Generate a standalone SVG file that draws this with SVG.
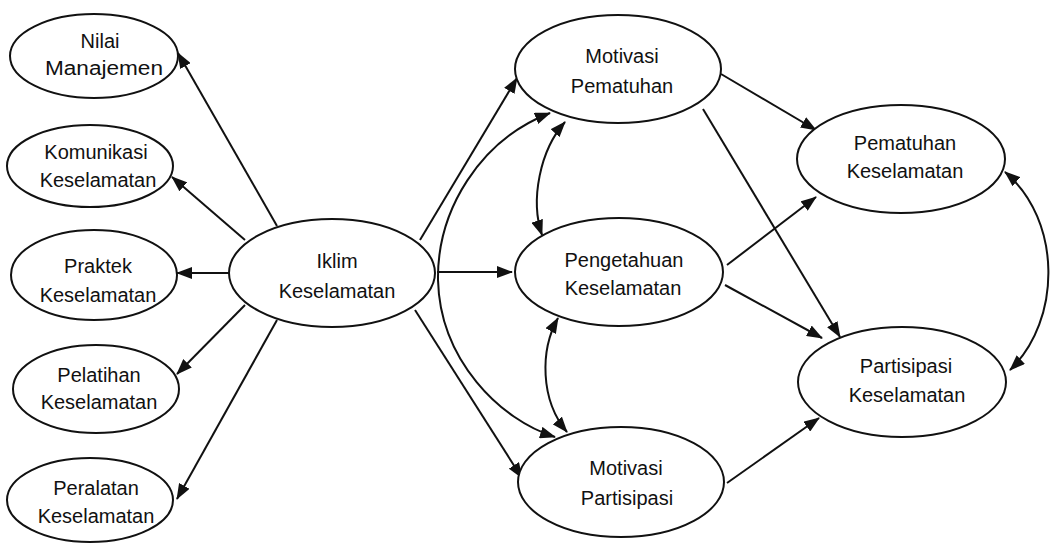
<svg xmlns="http://www.w3.org/2000/svg" width="1054" height="547" viewBox="0 0 1054 547">
<style>
.n{fill:#fff;stroke:#111;stroke-width:2}
.t{font-family:"Liberation Sans",Arial,sans-serif;font-size:20px;fill:#111;text-anchor:middle}
.c{fill:none;stroke:#111;stroke-width:2}
</style>
<defs>
<marker id="ah" markerUnits="userSpaceOnUse" markerWidth="16" markerHeight="12" viewBox="0 0 16 12" refX="15" refY="6" orient="auto-start-reverse">
<path d="M0,0 L16,6 L0,12 z" fill="#111"/>
</marker>
</defs>
<rect width="1054" height="547" fill="#fff"/>
<g id="connectors">
<line class="c" x1="277" y1="226" x2="178" y2="53" marker-end="url(#ah)"/>
<line class="c" x1="245" y1="240" x2="172" y2="177" marker-end="url(#ah)"/>
<line class="c" x1="230" y1="273" x2="177" y2="273" marker-end="url(#ah)"/>
<line class="c" x1="245" y1="305" x2="177" y2="374" marker-end="url(#ah)"/>
<line class="c" x1="277" y1="320" x2="177" y2="499" marker-end="url(#ah)"/>
<line class="c" x1="420" y1="240" x2="517" y2="78" marker-end="url(#ah)"/>
<line class="c" x1="437" y1="272" x2="512" y2="272" marker-end="url(#ah)"/>
<line class="c" x1="415" y1="310" x2="522" y2="478" marker-end="url(#ah)"/>
<line class="c" x1="721" y1="74" x2="816" y2="130" marker-end="url(#ah)"/>
<line class="c" x1="703" y1="109" x2="840" y2="337" marker-end="url(#ah)"/>
<line class="c" x1="727" y1="265" x2="816" y2="197" marker-end="url(#ah)"/>
<line class="c" x1="725" y1="285" x2="822" y2="338" marker-end="url(#ah)"/>
<line class="c" x1="727" y1="483" x2="819" y2="418" marker-end="url(#ah)"/>
<path class="c" d="M550,113 C480,140 437,210 438,280 C440,360 500,420 555,437" marker-start="url(#ah)" marker-end="url(#ah)"/>
<path class="c" d="M565,122 C540,150 530,200 542,235" marker-start="url(#ah)" marker-end="url(#ah)"/>
<path class="c" d="M558,318 C540,350 540,400 567,432" marker-start="url(#ah)" marker-end="url(#ah)"/>
<path class="c" d="M1005,172 C1062,220 1062,320 1010,370" marker-start="url(#ah)" marker-end="url(#ah)"/>
</g>
<g id="nilai-manajemen">
<ellipse class="n" cx="94" cy="56" rx="84" ry="42"/>
<text class="t" x="100" y="48">Nilai</text>
<text class="t" x="104" y="75" textLength="118" lengthAdjust="spacingAndGlyphs">Manajemen</text>
</g>
<g id="komunikasi-keselamatan">
<ellipse class="n" cx="90" cy="166" rx="83" ry="41"/>
<text class="t" x="96" y="159">Komunikasi</text>
<text class="t" x="98" y="187">Keselamatan</text>
</g>
<g id="praktek-keselamatan">
<ellipse class="n" cx="94" cy="275" rx="83" ry="45"/>
<text class="t" x="98" y="273">Praktek</text>
<text class="t" x="98" y="302">Keselamatan</text>
</g>
<g id="pelatihan-keselamatan">
<ellipse class="n" cx="96" cy="389" rx="83" ry="44"/>
<text class="t" x="99" y="382">Pelatihan</text>
<text class="t" x="99" y="409">Keselamatan</text>
</g>
<g id="peralatan-keselamatan">
<ellipse class="n" cx="90" cy="500" rx="83" ry="42"/>
<text class="t" x="96" y="495">Peralatan</text>
<text class="t" x="96" y="523">Keselamatan</text>
</g>
<g id="iklim-keselamatan">
<ellipse class="n" cx="332" cy="273" rx="103" ry="54"/>
<text class="t" x="337" y="268">Iklim</text>
<text class="t" x="337" y="298">Keselamatan</text>
</g>
<g id="motivasi-pematuhan">
<ellipse class="n" cx="618" cy="69" rx="103" ry="54"/>
<text class="t" x="622" y="63">Motivasi</text>
<text class="t" x="622" y="93">Pematuhan</text>
</g>
<g id="pengetahuan-keselamatan">
<ellipse class="n" cx="619" cy="272" rx="104" ry="54"/>
<text class="t" x="624" y="267">Pengetahuan</text>
<text class="t" x="623" y="295">Keselamatan</text>
</g>
<g id="motivasi-partisipasi">
<ellipse class="n" cx="621" cy="482" rx="103" ry="55"/>
<text class="t" x="626" y="475">Motivasi</text>
<text class="t" x="627" y="505">Partisipasi</text>
</g>
<g id="pematuhan-keselamatan">
<ellipse class="n" cx="901" cy="159" rx="104" ry="54"/>
<text class="t" x="905" y="150">Pematuhan</text>
<text class="t" x="905" y="178">Keselamatan</text>
</g>
<g id="partisipasi-keselamatan">
<ellipse class="n" cx="902" cy="382" rx="104" ry="55"/>
<text class="t" x="906" y="373">Partisipasi</text>
<text class="t" x="907" y="402">Keselamatan</text>
</g>
</svg>
